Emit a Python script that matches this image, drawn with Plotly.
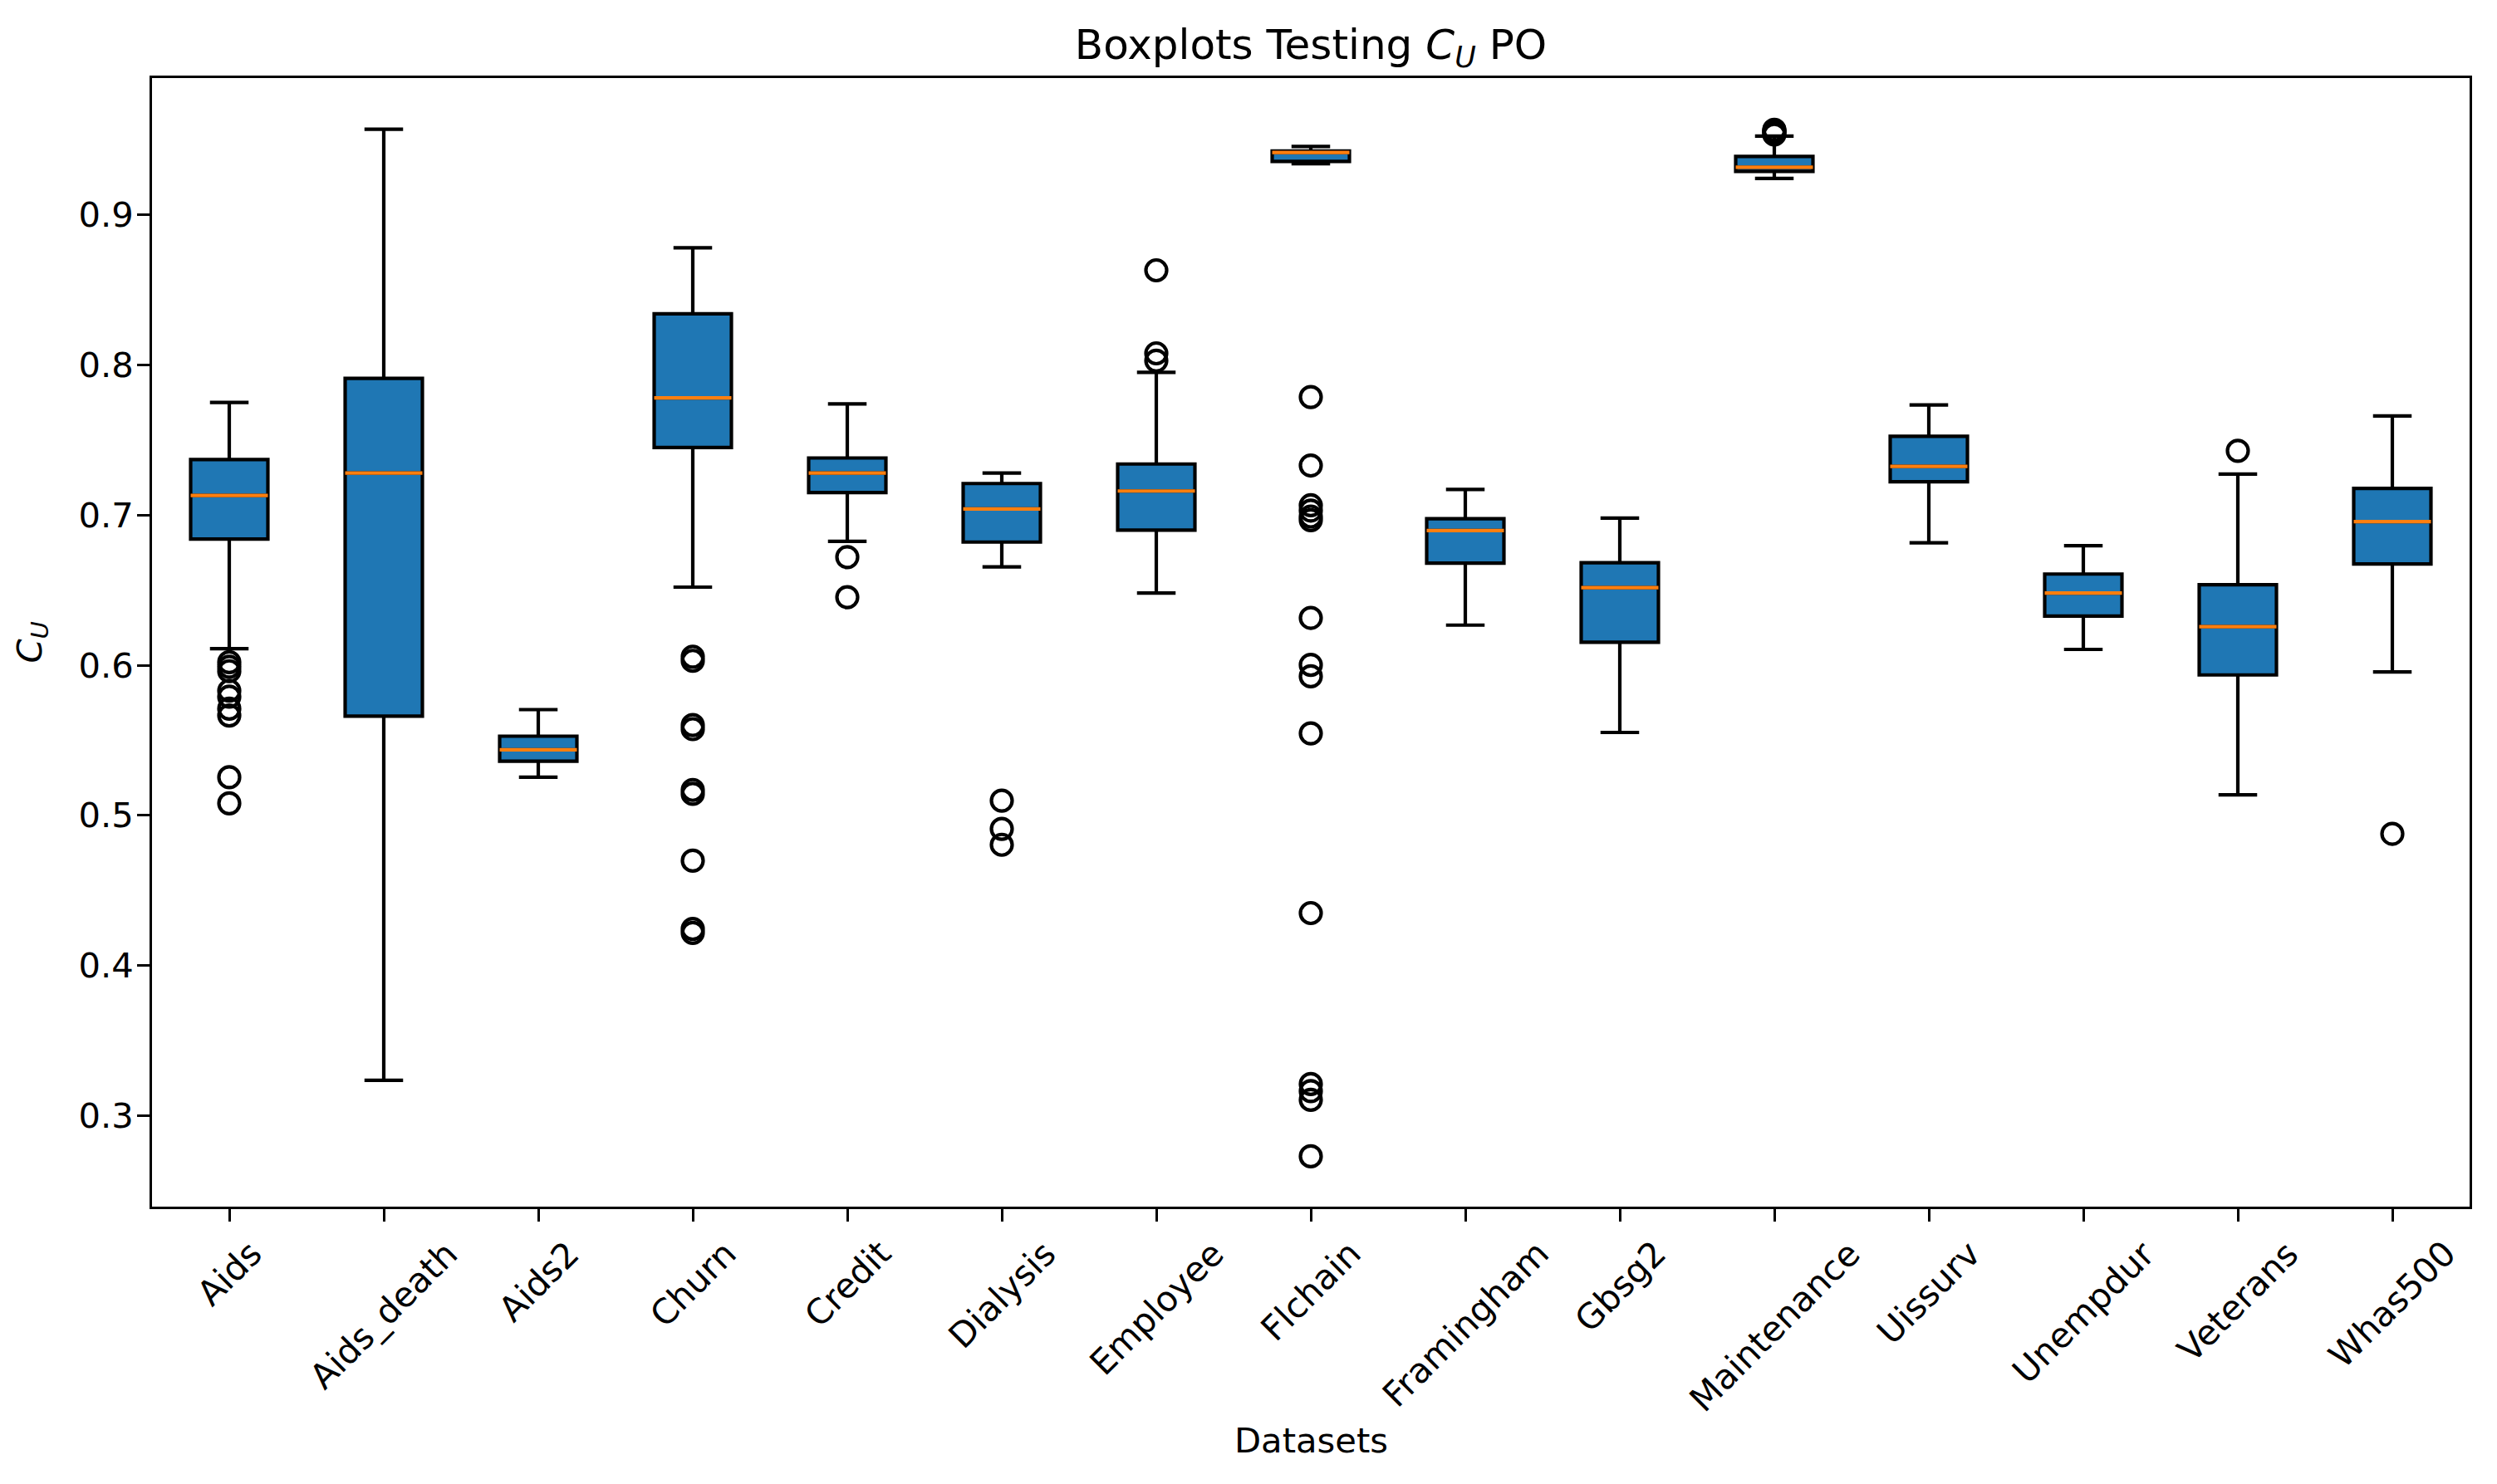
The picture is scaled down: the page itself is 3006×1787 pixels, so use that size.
import plotly.graph_objects as go

datasets = ["Aids", "Aids_death", "Aids2", "Churn", "Credit", "Dialysis", "Employee",
            "Flchain", "Framingham", "Gbsg2", "Maintenance", "Uissurv", "Unempdur",
            "Veterans", "Whas500"]

lower_whisker = [0.611, 0.3235, 0.5254, 0.652, 0.6825, 0.6655, 0.648, 0.934, 0.6267,
                 0.5552, 0.9242, 0.6815, 0.6105, 0.5137, 0.5955]
q1 = [0.684, 0.566, 0.536, 0.745, 0.715, 0.682, 0.690, 0.9355, 0.668, 0.6153, 0.9289,
      0.7222, 0.6327, 0.5935, 0.6674]
median = [0.713, 0.728, 0.5436, 0.778, 0.728, 0.704, 0.716, 0.9415, 0.6897, 0.6516,
          0.9316, 0.7324, 0.648, 0.6257, 0.6956]
q3 = [0.737, 0.791, 0.5527, 0.834, 0.738, 0.721, 0.734, 0.9425, 0.6976, 0.6682, 0.9388,
      0.7524, 0.6607, 0.6536, 0.7177]
upper_whisker = [0.775, 0.957, 0.5704, 0.878, 0.774, 0.728, 0.795, 0.9455, 0.717, 0.698,
                 0.9524, 0.7733, 0.6796, 0.7273, 0.766]

out_aids = [0.602, 0.599, 0.596, 0.583, 0.579, 0.571, 0.5665, 0.5254, 0.508]
out_aids_death = []
out_aids2 = []
out_churn = [0.6056, 0.6029, 0.5601, 0.5574, 0.5169, 0.5143, 0.4698, 0.4243, 0.4217]
out_credit = [0.672, 0.6453]
out_dialysis = [0.5098, 0.491, 0.4804]
out_employee = [0.863, 0.8077, 0.8028]
out_flchain = [0.7786, 0.733, 0.7065, 0.703, 0.699, 0.6966, 0.6315, 0.6002, 0.5926,
               0.5546, 0.4349, 0.321, 0.3163, 0.3105, 0.2729]
out_framingham = []
out_gbsg2 = []
out_maintenance = [0.9534, 0.9545, 0.9555, 0.9562, 0.9566]
out_uissurv = []
out_unempdur = []
out_veterans = [0.7428]
out_whas500 = [0.4877]

outliers = [out_aids, out_aids_death, out_aids2, out_churn, out_credit, out_dialysis,
            out_employee, out_flchain, out_framingham, out_gbsg2, out_maintenance,
            out_uissurv, out_unempdur, out_veterans, out_whas500]

y_ticks = [0.3, 0.4, 0.5, 0.6, 0.7, 0.8, 0.9]

# ---- styling ----
# page body has an 8px margin, so the figure is 16px smaller than the window
W, H = 2990, 1771
L, R, T, B = 175, 25, 86, 326
FONT = "DejaVu Sans"
FS = 41.7
LW = 4.2
AXW = 3.3
TICKLEN = 14.6
BOX_W = 0.5

positions = list(range(1, len(datasets) + 1))

fig = go.Figure()

fig.add_trace(go.Box(
    x=positions, q1=q1, median=median, q3=q3,
    lowerfence=lower_whisker, upperfence=upper_whisker,
    width=BOX_W, whiskerwidth=0.5,
    fillcolor="#1f77b4", line=dict(color="black", width=LW),
    boxpoints=False, showlegend=False,
))

# orange median lines
mx, my = [], []
for p, m in zip(positions, median):
    mx += [p - BOX_W / 2, p + BOX_W / 2, None]
    my += [m, m, None]
fig.add_trace(go.Scatter(x=mx, y=my, mode="lines",
                         line=dict(color="#ff7f0e", width=LW),
                         showlegend=False, hoverinfo="skip"))

# fliers
fx, fy = [], []
for p, outs in zip(positions, outliers):
    fx += [p] * len(outs)
    fy += outs
fig.add_trace(go.Scatter(x=fx, y=fy, mode="markers",
                         marker=dict(symbol="circle-open", size=25, color="black",
                                     line=dict(width=LW, color="black")),
                         showlegend=False, cliponaxis=False))

axis_common = dict(showline=True, mirror=True, linecolor="black", linewidth=AXW,
                   ticks="outside", ticklen=TICKLEN, tickwidth=AXW, tickcolor="black",
                   showgrid=False, zeroline=False,
                   tickfont=dict(family=FONT, size=FS, color="black"))

fig.update_xaxes(range=[0.5, len(datasets) + 0.5], tickvals=positions,
                 showticklabels=False, **axis_common)
fig.update_yaxes(range=[0.23938, 0.99104], tickvals=y_ticks, tickformat=".1f",
                 ticklabelstandoff=-4, **axis_common)

annotations = []
for p, name in zip(positions, datasets):
    annotations.append(dict(x=p, xref="x", y=0, yref="paper", yshift=-(TICKLEN * 2),
                            text=name, textangle=-45, showarrow=False,
                            xanchor="center", yanchor="top",
                            font=dict(family=FONT, size=FS, color="black")))
annotations.append(dict(x=0.5, xref="paper", y=0, yref="paper", yshift=-281,
                        text="Datasets", showarrow=False, xanchor="center",
                        yanchor="middle", font=dict(family=FONT, size=FS, color="black")))
annotations.append(dict(x=0, xref="paper", xshift=-145, y=0.5, yref="paper",
                        text="<i>C</i><sub><i>U</i></sub>", textangle=-90,
                        showarrow=False, xanchor="center", yanchor="middle",
                        font=dict(family=FONT, size=FS, color="black")))

fig.update_layout(
    width=W, height=H,
    margin=dict(l=L, r=R, t=T, b=B, autoexpand=False),
    paper_bgcolor="white", plot_bgcolor="white",
    title=dict(text="Boxplots Testing <i>C</i><sub><i>U</i></sub> PO",
               x=0.5, xref="paper", xanchor="center",
               y=1 - 45 / H, yref="container", yanchor="middle",
               font=dict(family=FONT, size=50, color="black")),
    annotations=annotations,
    font=dict(family=FONT, color="black"),
)

fig.write_html("out.html")
